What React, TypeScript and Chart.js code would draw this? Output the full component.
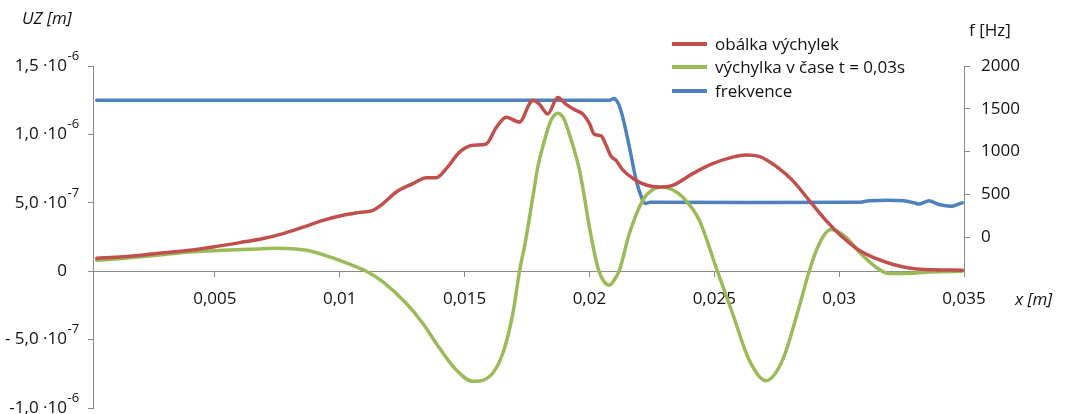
import React, { useEffect, useRef } from 'react';
import { Chart, registerables } from 'chart.js';

Chart.register(...registerables);

// ---- data (x in metres, UZ in metres, f in Hz) ----
const envelopeX = [0.000268, 0.00132, 0.002668, 0.004, 0.004932, 0.006, 0.006932, 0.007732, 0.008668, 0.009332, 0.010132, 0.0108, 0.011332, 0.011732, 0.012268, 0.012932, 0.013468, 0.013868, 0.014268, 0.0148, 0.015332, 0.015868, 0.016268, 0.016668, 0.0172, 0.0176, 0.017732, 0.0180, 0.018332, 0.018732, 0.019068, 0.019468, 0.019732, 0.0200, 0.0202, 0.020468, 0.020668, 0.020868, 0.021068, 0.021332, 0.021732, 0.022268, 0.0228, 0.023332, 0.024132, 0.024932, 0.025732, 0.026268, 0.0268, 0.0276, 0.028132, 0.0288, 0.029468, 0.030132, 0.0308, 0.031468, 0.032132, 0.0328, 0.033468, 0.034932];
const envelopeY = [0.95e-7, 1.05e-7, 1.29e-7, 1.53e-7, 1.77e-7, 2.09e-7, 2.39e-7, 2.75e-7, 3.3e-7, 3.72e-7, 4.09e-7, 4.3e-7, 4.45e-7, 4.94e-7, 5.79e-7, 6.4e-7, 6.84e-7, 6.84e-7, 7.5e-7, 8.7e-7, 9.2e-7, 9.3e-7, 10.5e-7, 11.26e-7, 10.9e-7, 12.24e-7, 12.5e-7, 12.2e-7, 11.5e-7, 12.7e-7, 12.2e-7, 11.75e-7, 11.5e-7, 10.8e-7, 10.0e-7, 9.9e-7, 9.2e-7, 8.4e-7, 8.1e-7, 7.4e-7, 6.8e-7, 6.3e-7, 6.15e-7, 6.28e-7, 7.13e-7, 7.86e-7, 8.34e-7, 8.5e-7, 8.39e-7, 7.5e-7, 6.64e-7, 5.18e-7, 3.72e-7, 2.5e-7, 1.53e-7, 0.93e-7, 0.51e-7, 0.24e-7, 0.12e-7, 0.07e-7];

const deflectionX = [0.000268, 0.00132, 0.002668, 0.004, 0.00532, 0.006668, 0.007468, 0.008668, 0.0096, 0.0104, 0.011068, 0.011732, 0.012668, 0.013332, 0.014, 0.014668, 0.015332, 0.016, 0.016532, 0.016932, 0.0172, 0.01744, 0.017732, 0.017932, 0.018268, 0.01848, 0.018732, 0.01896, 0.0192, 0.0196, 0.0198, 0.02, 0.020332, 0.02056, 0.0208, 0.02104, 0.0212, 0.0216, 0.022132, 0.02248, 0.022932, 0.02332, 0.023732, 0.0244, 0.025068, 0.025732, 0.0264, 0.027068, 0.027732, 0.0284, 0.0288, 0.0292, 0.029668, 0.030268, 0.0308, 0.031468, 0.032, 0.0328, 0.033468, 0.034932];
const deflectionY = [0.8e-7, 0.93e-7, 1.17e-7, 1.41e-7, 1.53e-7, 1.63e-7, 1.68e-7, 1.53e-7, 1.05e-7, 0.51e-7, 0, -0.78e-7, -2.36e-7, -3.82e-7, -5.64e-7, -7.23e-7, -8.05e-7, -7.7e-7, -6.0e-7, -3.1e-7, 0, 2.2e-7, 5.4e-7, 7.6e-7, 10.0e-7, 11.1e-7, 11.55e-7, 11.2e-7, 10.0e-7, 7.4e-7, 5.4e-7, 3.2e-7, 0.3e-7, -0.7e-7, -1.02e-7, -0.5e-7, 0.07e-7, 2.75e-7, 5.18e-7, 5.9e-7, 6.15e-7, 5.95e-7, 5.42e-7, 3.72e-7, 0.3e-7, -3.09e-7, -6.5e-7, -8.0e-7, -6.5e-7, -2.6e-7, 0, 2.0e-7, 3.04e-7, 2.5e-7, 1.4e-7, 0.31e-7, -0.17e-7, -0.17e-7, -0.07e-7, 0];

const frequencyX = [0.000268, 0.0208, 0.021, 0.02116, 0.02133, 0.0216, 0.02187, 0.02213, 0.02224, 0.0224, 0.02253, 0.0308, 0.0312, 0.0326, 0.033, 0.0332, 0.0336, 0.034, 0.03453, 0.03493];
const frequencyY = [1600, 1600, 1620, 1560, 1405, 1054, 664, 430, 391, 405, 405, 405, 425, 425, 400, 385, 425, 380, 360, 400];

const xTickValues = [0.005, 0.01, 0.015, 0.02, 0.025, 0.03, 0.035];
const xTickLabels = ['0,005', '0,01', '0,015', '0,02', '0,025', '0,03', '0,035'];
const leftTickValues = [-1e-6, -5e-7, 0, 5e-7, 1e-6, 1.5e-6];
const leftTickLabels = ['-1,0 ·10', '- 5,0 ·10', '0', '5,0 ·10', '1,0 ·10', '1,5 ·10'];
const leftTickExponents = ['-6', '-7', '', '-7', '-6', '-6'];
const rightTickValues = [0, 500, 1000, 1500, 2000];
const rightTickLabels = ['0', '500', '1000', '1500', '2000'];

const seriesNames = ['obálka výchylek', 'výchylka v čase t = 0,03s', 'frekvence'];
const seriesColors = ['#C0504D', '#9BBB59', '#4F81BD'];

const leftTitle = 'UZ [m]';
const rightTitle = 'f [Hz]';
const xTitle = 'x [m]';

const FONT = "'Open Sans', sans-serif";
const AXIS = '#8a8a8a';
const TXT = '#111';

const pts = (xs: number[], ys: number[]) => xs.map((x, i) => ({ x, y: ys[i] }));

const overlayPlugin = {
  id: 'overlayBits',
  afterDraw(chart: any) {
    const ctx = chart.ctx;
    const yl = chart.scales.y;
    const yr = chart.scales.y1;
    ctx.save();
    // exponents of left tick labels
    ctx.font = `13px ${FONT}`;
    ctx.fillStyle = TXT;
    ctx.textAlign = 'left';
    ctx.textBaseline = 'middle';
    const xText = yl.right - 5 - 21;
    yl.ticks.forEach((t: any, i: number) => {
      const e = leftTickExponents[i];
      if (!e) return;
      ctx.fillText(e, xText + 0.5, yl.getPixelForValue(t.value) - 10);
    });
    // right axis line (only over the shown range)
    const xr = Math.round(yr.left) + 0.5;
    ctx.strokeStyle = AXIS;
    ctx.lineWidth = 1;
    ctx.beginPath();
    ctx.moveTo(xr, yr.getPixelForValue(rightTickValues[rightTickValues.length - 1]));
    ctx.lineTo(xr, yl.getPixelForValue(0));
    ctx.stroke();
    ctx.restore();
  },
};

export default function App() {
  const ref = useRef<HTMLCanvasElement | null>(null);

  useEffect(() => {
    document.body.style.margin = '0';
    if (!ref.current) return;
    const tickFont = { family: FONT, size: 17 };
    const chart = new Chart(ref.current, {
      type: 'line',
      data: {
        datasets: [
          { label: seriesNames[0], data: pts(envelopeX, envelopeY), borderColor: seriesColors[0], borderWidth: 3.5, yAxisID: 'y', cubicInterpolationMode: 'monotone' },
          { label: seriesNames[1], data: pts(deflectionX, deflectionY), borderColor: seriesColors[1], borderWidth: 3.5, yAxisID: 'y', cubicInterpolationMode: 'monotone' },
          { label: seriesNames[2], data: pts(frequencyX, frequencyY), borderColor: seriesColors[2], borderWidth: 3.5, yAxisID: 'y1', tension: 0.2 },
        ],
      },
      options: {
        animation: false,
        responsive: true,
        maintainAspectRatio: false,
        layout: { padding: { top: 66, bottom: 6, left: 0, right: 0 } },
        elements: { point: { radius: 0 }, line: { borderCapStyle: 'round', borderJoinStyle: 'round' } },
        plugins: { legend: { display: false }, tooltip: { enabled: false } },
        scales: {
          x: {
            type: 'linear',
            position: { y: 0 } as any,
            min: 0.00012,
            max: 0.035,
            afterBuildTicks: (s: any) => { s.ticks = xTickValues.map((v) => ({ value: v })); },
            afterFit: (s: any) => { s.paddingLeft = 0; s.paddingRight = 0; },
            grid: { drawOnChartArea: false, drawTicks: true, tickLength: 5, color: AXIS },
            border: { color: AXIS, width: 1 },
            ticks: { autoSkip: false, maxRotation: 0, padding: 13, color: TXT, font: tickFont, callback: (_v: any, i: number) => xTickLabels[i] },
          },
          y: {
            type: 'linear',
            position: 'left',
            min: -1e-6,
            max: 1.5e-6,
            afterBuildTicks: (s: any) => { s.ticks = leftTickValues.map((v) => ({ value: v })); },
            afterFit: (s: any) => { s.width = 93; s.paddingTop = 0; s.paddingBottom = 0; },
            grid: { drawOnChartArea: false, drawTicks: true, tickLength: 5, color: AXIS },
            border: { color: AXIS, width: 1 },
            ticks: { autoSkip: false, padding: 21, color: TXT, font: tickFont, callback: (_v: any, i: number) => leftTickLabels[i] },
          },
          y1: {
            type: 'linear',
            position: 'right',
            min: -2000,
            max: 2000,
            afterBuildTicks: (s: any) => { s.ticks = rightTickValues.map((v) => ({ value: v })); },
            afterFit: (s: any) => { s.width = 102; s.paddingTop = 0; s.paddingBottom = 0; },
            grid: { drawOnChartArea: false, drawTicks: true, tickLength: 6, color: AXIS },
            border: { display: false },
            ticks: { autoSkip: false, padding: 11, color: TXT, font: tickFont, callback: (_v: any, i: number) => rightTickLabels[i] },
          },
        },
      } as any,
      plugins: [overlayPlugin],
    });
    return () => chart.destroy();
  }, []);

  const text: React.CSSProperties = { position: 'absolute', fontFamily: FONT, fontSize: 17, color: TXT, whiteSpace: 'nowrap', lineHeight: '20px' };
  const legendTops = [34, 57, 81];

  return (
    <div style={{ position: 'relative', width: 1066, height: 414, background: '#fff', overflow: 'hidden' }}>
      <canvas ref={ref} />
      <div style={{ ...text, left: 22, top: 8, fontStyle: 'italic' }}>{leftTitle}</div>
      <div style={{ ...text, left: 969, top: 20 }}>{rightTitle}</div>
      <div style={{ ...text, left: 1015, top: 289, fontStyle: 'italic' }}>{xTitle}</div>
      {seriesNames.map((n, i) => (
        <div key={n} style={{ ...text, left: 672, top: legendTops[i], display: 'flex', alignItems: 'center' }}>
          <span style={{ display: 'inline-block', width: 35, height: 4, background: seriesColors[i], marginRight: 8 }} />
          <span>{n}</span>
        </div>
      ))}
    </div>
  );
}
